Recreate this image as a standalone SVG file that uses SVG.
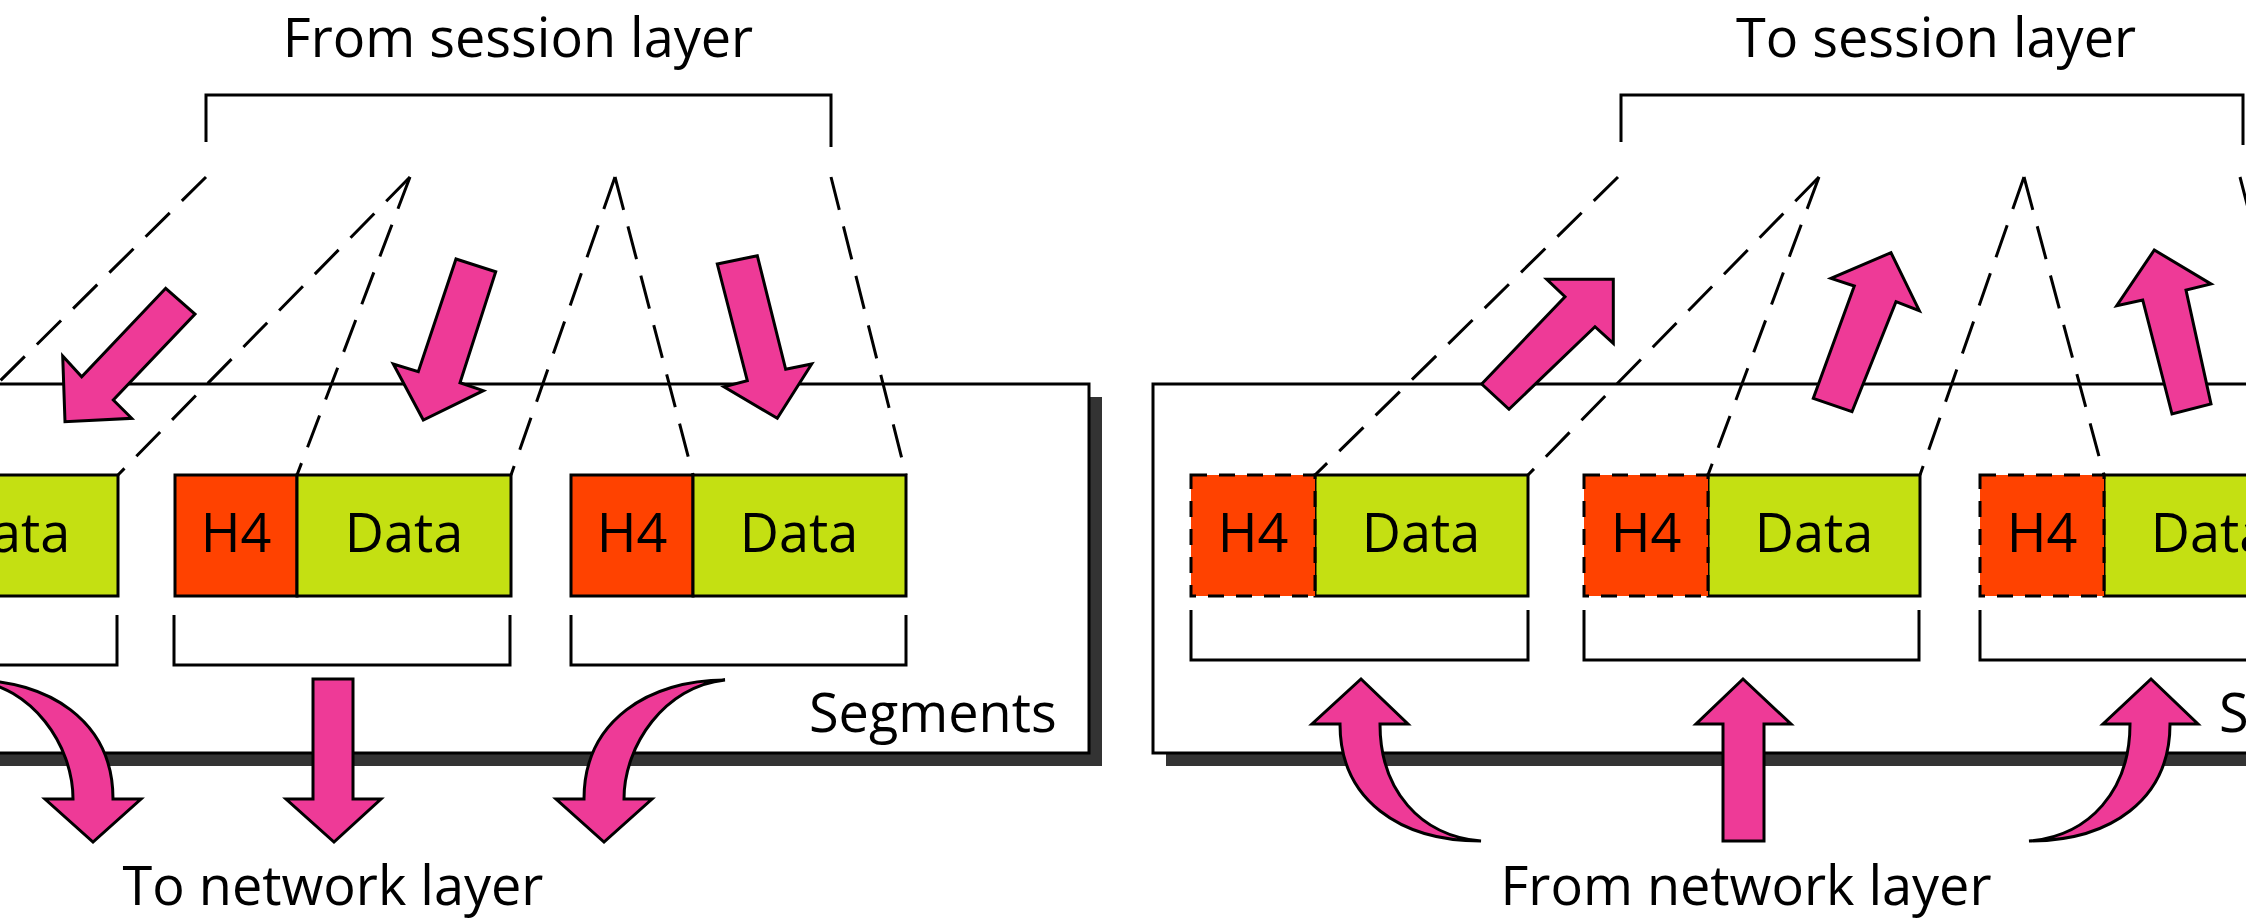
<svg xmlns="http://www.w3.org/2000/svg" width="2246" height="921" viewBox="0 0 2246 921">
<style>
  .txt { font-family: "Open Sans", "Noto Sans", "Liberation Sans", sans-serif; font-size: 54px; fill: #000; }
  .mid { text-anchor: middle; }
  .box { fill: #fff; stroke: #000; stroke-width: 3; }
  .shadow { fill: #333; stroke: none; }
  .brk { fill: none; stroke: #000; stroke-width: 3; }
  .dash { fill: none; stroke: #000; stroke-width: 3; stroke-dasharray: 34 17; }
  .h4 { fill: #FF4200; stroke: #000; stroke-width: 3; }
  .h4d { fill: #FF4200; stroke: #000; stroke-width: 3; stroke-dasharray: 16 12; }
  .data { fill: #C4E012; stroke: #000; stroke-width: 3; }
  .arrow { fill: #EE3A97; stroke: #000; stroke-width: 3; stroke-linejoin: miter; }
</style>

<!-- LEFT DIAGRAM -->
<g id="left-frame">
  <rect class="shadow" x="-300" y="397" width="1402" height="369"/>
  <rect class="box" x="-300" y="384" width="1389" height="369"/>
</g>
<g id="left-title">
  <text class="txt mid" x="518" y="57">From session layer</text>
  <polyline class="brk" points="206,142 206,95 831,95 831,147"/>
</g>

<g id="left-connectors">
  <line class="dash" x1="206" y1="177" x2="-95" y2="475"/>
  <line class="dash" x1="410" y1="177" x2="118" y2="475"/>
  <line class="dash" x1="410" y1="177" x2="297" y2="475"/>
  <line class="dash" x1="615" y1="177" x2="511" y2="475"/>
  <line class="dash" x1="615" y1="177" x2="693" y2="475"/>
  <line class="dash" x1="831" y1="177" x2="906" y2="475"/>
</g>

<g id="left-seg1">
  <rect class="h4" x="-217" y="475" width="122" height="121"/>
  <rect class="data" x="-95" y="475" width="213" height="121"/>
  <text class="txt mid" x="11" y="552">Data</text>
  <polyline class="brk" points="-217,615 -217,665 117,665 117,615"/>
</g>
<g id="left-seg2">
  <rect class="h4" x="175" y="475" width="122" height="121"/>
  <rect class="data" x="297" y="475" width="214" height="121"/>
  <text class="txt mid" x="236" y="552">H4</text>
  <text class="txt mid" x="404" y="552">Data</text>
  <polyline class="brk" points="174,615 174,665 510,665 510,615"/>
</g>
<g id="left-seg3">
  <rect class="h4" x="571" y="475" width="122" height="121"/>
  <rect class="data" x="693" y="475" width="213" height="121"/>
  <text class="txt mid" x="632" y="552">H4</text>
  <text class="txt mid" x="799" y="552">Data</text>
  <polyline class="brk" points="571,615 571,665 906,665 906,615"/>
</g>
<g id="left-segments-label">
  <text class="txt" x="809" y="732">Segments</text>
</g>

<g id="left-arrows">
  <polygon class="arrow" points="165.7,288.3 195,314 113.3,400 131.7,418.3 65,421.7 62.7,356 81.7,376.7"/>
  <polygon class="arrow" points="456,259 495.7,271.7 460,382.7 483.3,390.7 423.3,420 393.3,364 418.3,371.7"/>
  <polygon class="arrow" points="717.3,264 757.3,255.7 785.7,369.3 811.7,364 777.3,418.3 724,386.7 747.3,380.7"/>
  <path class="arrow" d="M -28,680 C 47,680 113,720 113,799 L 141,799 L 93,842 L 45,799 L 73,799 C 73,745 32,686 -28,680 Z"/>
  <path class="arrow" d="M 313,679 L 353,679 L 353,799 L 381,799 L 334,842 L 286,799 L 313,799 Z"/>
  <path class="arrow" d="M 725,680 C 650,680 584,720 584,799 L 556,799 L 604,842 L 652,799 L 624,799 C 624,745 665,686 725,680 Z"/>
</g>
<g id="left-bottom-label">
  <text class="txt mid" x="333" y="905">To network layer</text>
</g>

<!-- RIGHT DIAGRAM -->
<g id="right-frame">
  <rect class="shadow" x="1166" y="397" width="1400" height="369"/>
  <rect class="box" x="1153" y="384" width="1400" height="369"/>
</g>
<g id="right-title">
  <text class="txt mid" x="1936" y="57">To session layer</text>
  <polyline class="brk" points="1621,142 1621,95 2243,95 2243,145"/>
</g>

<g id="right-connectors">
  <line class="dash" x1="1618" y1="177" x2="1315" y2="475"/>
  <line class="dash" x1="1819" y1="177" x2="1528" y2="475"/>
  <line class="dash" x1="1819" y1="177" x2="1708" y2="475"/>
  <line class="dash" x1="2024" y1="177" x2="1920" y2="475"/>
  <line class="dash" x1="2024" y1="177" x2="2104" y2="475"/>
  <line class="dash" x1="2240" y1="177" x2="2317" y2="475"/>
</g>

<g id="right-seg1">
  <rect class="data" x="1315" y="475" width="213" height="121"/>
  <rect class="h4d" x="1191" y="475" width="124" height="121"/>
  <text class="txt mid" x="1253" y="552">H4</text>
  <text class="txt mid" x="1421" y="552">Data</text>
  <polyline class="brk" points="1191,610 1191,660 1528,660 1528,610"/>
</g>
<g id="right-seg2">
  <rect class="data" x="1708" y="475" width="212" height="121"/>
  <rect class="h4d" x="1584" y="475" width="124" height="121"/>
  <text class="txt mid" x="1646" y="552">H4</text>
  <text class="txt mid" x="1814" y="552">Data</text>
  <polyline class="brk" points="1584,610 1584,660 1919,660 1919,610"/>
</g>
<g id="right-seg3">
  <rect class="data" x="2104" y="475" width="213" height="121"/>
  <rect class="h4d" x="1980" y="475" width="124" height="121"/>
  <text class="txt mid" x="2042" y="552">H4</text>
  <text class="txt mid" x="2210" y="552">Data</text>
  <polyline class="brk" points="1980,610 1980,660 2317,660 2317,610"/>
</g>
<g id="right-segments-label">
  <text class="txt" x="2219" y="732">Segments</text>
</g>

<g id="right-arrows">
  <polygon class="arrow" points="1481.7,384 1565,296.7 1546.7,279.3 1613.3,279.3 1613.3,343.3 1595,326.7 1509,409.3"/>
  <polygon class="arrow" points="1813.3,398.3 1854.3,286 1831,278.3 1891,252.7 1919.3,310.7 1896,301.7 1852,411.7"/>
  <polygon class="arrow" points="2172,414 2142.7,300 2116.7,305.7 2154.3,250 2211,284 2186,290 2211,404"/>
  <path class="arrow" d="M 1481,841 C 1400,841 1340,800 1340,724 L 1312,724 L 1361,679 L 1408,724 L 1380,724 C 1380,790 1420,836 1481,841 Z"/>
  <path class="arrow" d="M 1723,841 L 1764,841 L 1764,724 L 1791,724 L 1743,679 L 1696,724 L 1723,724 Z"/>
  <path class="arrow" d="M 2029,841 C 2110,841 2170,800 2170,724 L 2198,724 L 2151,679 L 2103,724 L 2130,724 C 2130,790 2090,836 2029,841 Z"/>
</g>
<g id="right-bottom-label">
  <text class="txt mid" x="1746" y="905">From network layer</text>
</g>
</svg>
